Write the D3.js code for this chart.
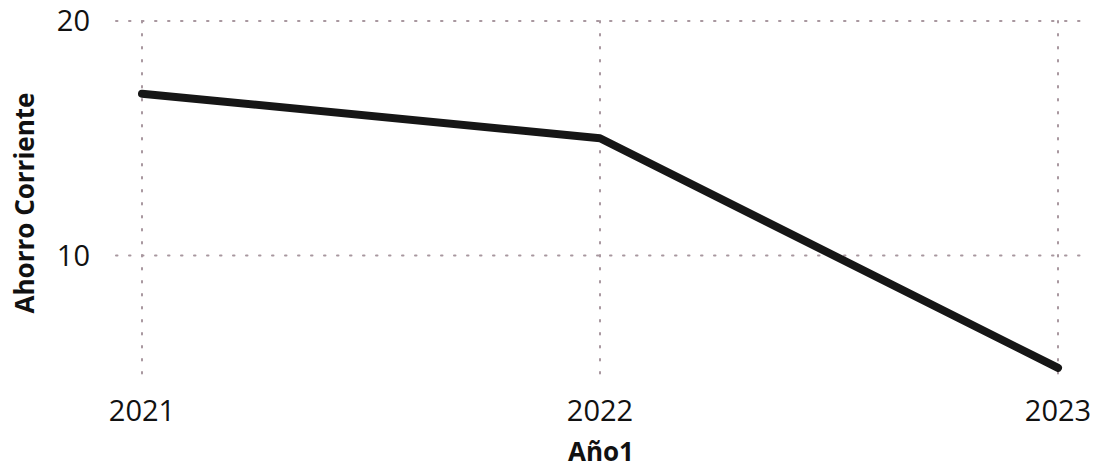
<!DOCTYPE html>
<html>
<head>
<meta charset="utf-8">
<script src="https://cdn.jsdelivr.net/npm/d3@7"></script>
<style>
  body { margin: 0; background: #fff; }
  svg { display: block; font-family: "Open Sans", "Noto Sans", sans-serif; }
  .grid line { stroke: #a8979f; stroke-width: 2; stroke-dasharray: 1.5 11.5; stroke-linecap: round; }
  .tick-label { font-size: 29px; font-weight: 500; fill: #111; }
  .axis-title { font-size: 26px; font-weight: bold; fill: #111; }
</style>
</head>
<body>
<div id="chart"></div>
<script>
// data
var years = ["2021", "2022", "2023"];
var ahorro = [16.9, 15.0, 5.2];
var yTicks = [10, 20];

var W = 1095, H = 468;

var svg = d3.select("#chart").append("svg")
    .attr("width", W)
    .attr("height", H);

var x = d3.scalePoint()
    .domain(years)
    .range([142, 1058]);

var y = d3.scaleLinear()
    .domain([4.6, 20])
    .range([382, 21]);

var data = years.map((d, i) => ({ year: d, value: ahorro[i] }));

// grid
var grid = svg.append("g").attr("class", "grid");

grid.selectAll("line.h")
  .data(yTicks).enter()
  .append("line")
    .attr("class", "h")
    .attr("x1", 116)
    .attr("x2", 1082)
    .attr("y1", d => y(d))
    .attr("y2", d => y(d));

grid.selectAll("line.v")
  .data(years).enter()
  .append("line")
    .attr("class", "v")
    .attr("x1", d => x(d))
    .attr("x2", d => x(d))
    .attr("y1", y(20))
    .attr("y2", y.range()[0]);

// y tick labels
svg.selectAll("text.ylab")
  .data(yTicks).enter()
  .append("text")
    .attr("class", "tick-label ylab")
    .attr("x", 90)
    .attr("y", d => y(d))
    .attr("dy", "0.35em")
    .attr("text-anchor", "end")
    .text(d => d);

// x tick labels
svg.selectAll("text.xlab")
  .data(years).enter()
  .append("text")
    .attr("class", "tick-label xlab")
    .attr("x", d => x(d))
    .attr("y", 421)
    .attr("text-anchor", "middle")
    .text(d => d);

// axis titles
svg.append("text")
    .attr("class", "axis-title")
    .attr("transform", "translate(34," + 203 + ") rotate(-90)")
    .attr("text-anchor", "middle")
    .text("Ahorro Corriente");

svg.append("text")
    .attr("class", "axis-title")
    .attr("x", 601)
    .attr("y", 461)
    .attr("text-anchor", "middle")
    .text("Año1");

// line
var line = d3.line()
    .x(d => x(d.year))
    .y(d => y(d.value));

svg.append("path")
    .datum(data)
    .attr("fill", "none")
    .attr("stroke", "#161616")
    .attr("stroke-width", 8)
    .attr("stroke-linecap", "round")
    .attr("stroke-linejoin", "round")
    .attr("d", line);
</script>
</body>
</html>
